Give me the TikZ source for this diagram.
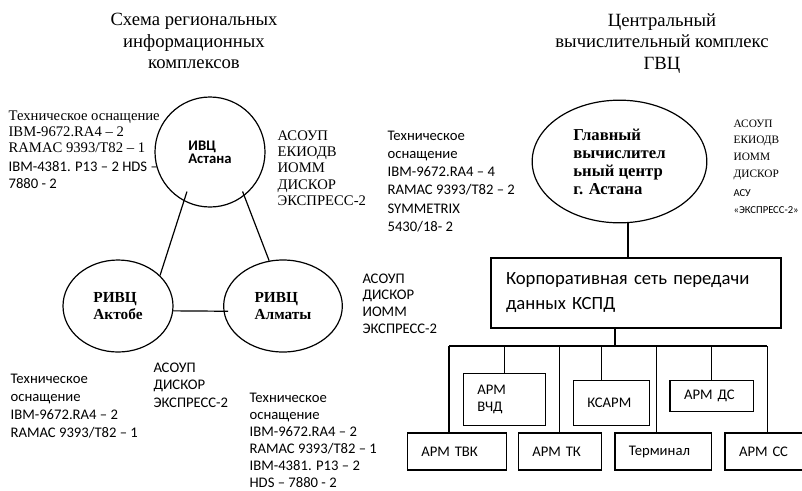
\documentclass[tikz,border=0pt]{standalone}
\usepackage{fontspec}
\setmainfont{Liberation Serif}
\newfontfamily\calibri{Carlito}
\usetikzlibrary{shapes.geometric}

\begin{document}
\begin{tikzpicture}[x=0.75pt,y=-0.75pt,line width=0.9pt,
  title/.style={anchor=north,align=center,inner sep=0pt,font=\fontsize{14}{16.1}\selectfont},
  serif/.style={font=\fontsize{11}{#1}\selectfont},serif/.default=12,
  sans/.style={font=\calibri\fontsize{11}{#1}\selectfont},sans/.default=13.2,
  txt/.style={anchor=north west,inner sep=0pt,align=left},
  oval/.style={draw,ellipse,inner sep=0pt,align=left,font=\bfseries\fontsize{11.5}{12.75}\selectfont},
  armbox/.style={draw,sans,align=left,inner xsep=10.5pt,inner ysep=0pt}]
\useasboundingbox (0,0) rectangle (802,490);

% titles
\node[title] (titleL) at (194,13) {Схема региональных\\информационных\\комплексов};
\node[title] (titleR) at (662,13) {Центральный\\вычислительный комплекс\\ГВЦ};

% regional complexes
\node[draw,circle,minimum size=82.5pt,inner sep=0pt,align=left,
  font=\calibri\bfseries\fontsize{11}{10}\selectfont] (ivc) at (210,152) {ИВЦ\\Астана};
\node[oval,minimum width=82.5pt,minimum height=69pt] (aktobe) at (118,306) {РИВЦ\\Актобе};
\node[oval,minimum width=89pt,minimum height=69pt] (almaty) at (283,306) {РИВЦ\\Алматы};
\draw[shorten <=-7.5pt] (ivc.242) -- (aktobe.36);
\draw[shorten <=-3.5pt] (ivc.308) -- (almaty.107);
\draw[shorten >=-3.5pt] (aktobe.-5) -- (almaty.185);

\node[txt,serif] (techivc) at (8,110) {Техническое оснащение\\IBM-9672.RA4 – 2\\RAMAC 9393/T82 – 1\\[2.25pt]
  {\calibri IBM-4381. P13 – 2 HDS –}\\[0.75pt]{\calibri 7880 - 2}};
\node[txt,serif=12.2] (progivc) at (277,130) {АСОУП\\ЕКИОДВ\\ИОММ\\ДИСКОР\\ЭКСПРЕСС-2};
\node[txt,sans=12.5] (progalmaty) at (362,273) {АСОУП\\ДИСКОР\\ИОММ\\ЭКСПРЕСС-2};
\node[txt,sans=13.5] (techaktobe) at (10,373) {Техническое\\оснащение\\IBM-9672.RA4 – 2\\RAMAC 9393/T82 – 1};
\node[txt,sans=13.1] (progaktobe) at (153,362) {АСОУП\\ДИСКОР\\ЭКСПРЕСС-2};
\node[txt,sans=12.75] (techalmaty) at (249,392) {Техническое\\оснащение\\IBM-9672.RA4 – 2\\RAMAC 9393/T82 – 1\\IBM-4381. P13 – 2\\HDS – 7880 - 2};

% central complex
\node[oval,minimum width=131pt,minimum height=92pt,font=\bfseries\fontsize{12.5}{13.5}\selectfont] (gvc) at (619.5,161.5)
  {Главный\\вычислител\\ьный центр\\г. Астана};
\node[txt,sans=13.7] (techgvc) at (387,130) {Техническое\\оснащение\\IBM-9672.RA4 – 4\\RAMAC 9393/T82 – 2\\SYMMETRIX\\5430/18- 2};
\node[txt,font=\fontsize{8.5}{12.5}\selectfont] (proggvc) at (733,119) {АСОУП\\ЕКИОДВ\\ИОММ\\ДИСКОР\\[1.75pt]
  {\calibri\fontsize{8}{12.5}\selectfont АСУ}\\[0.25pt]{\calibri\fontsize{8}{12.5}\selectfont «ЭКСПРЕСС-2»}};

\node[draw,align=left,inner xsep=11.25pt,text width=195pt,minimum height=52.5pt,
  font=\calibri\fontsize{14}{18.75}\selectfont] (kspd) at (636,293) {Корпоративная сеть передачи\\данных КСПД};
\draw ([xshift=6.4pt]gvc.south) -- ([xshift=6.4pt]gvc.south |- kspd.north);

% workstations
\node[armbox,text width=40.8pt,minimum height=39.3pt] (vchd) at (504.5,399.5) {АРМ\\ВЧД};
\node[armbox,text width=36pt,minimum height=33.75pt] (ksarm) at (611.3,403.2) {КСАРМ};
\node[armbox,text width=41.5pt,minimum height=23.25pt] (ds) at (711.7,396.2) {АРМ ДС};
\node[armbox,text width=53.5pt,minimum height=27.75pt] (tvk) at (457,451.5) {АРМ ТВК};
\node[armbox,text width=41.25pt,minimum height=27.75pt] (tk) at (559.8,451.5) {АРМ ТК};
\node[armbox,text width=51.5pt,minimum height=27.75pt] (term) at (663.3,451.5) {Терминал};
\node[armbox,text width=39pt,minimum height=27.75pt] (cc) at (765,451.5) {АРМ СС};

\coordinate (busL) at (449,346);
\coordinate (busR) at (767.3,346);
\coordinate (hub) at (615,346);
\draw (hub) -- (hub |- kspd.south);
\draw (busL) -- (busR);
\foreach \b/\s in {tvk/-6pt,vchd/0pt,tk/0pt,ksarm/-7.5pt,term/-5pt,ds/0pt,cc/1.7pt}
  \draw ([xshift=\s]\b.north) -- ([xshift=\s]\b.north |- busL);
\end{tikzpicture}
\end{document}
